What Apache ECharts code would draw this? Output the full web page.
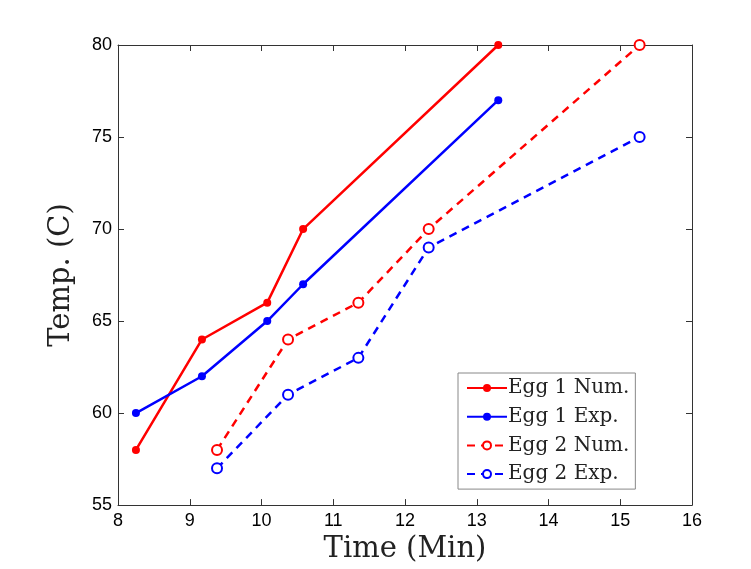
<!DOCTYPE html>
<html><head><meta charset="utf-8">
<script src="https://cdn.jsdelivr.net/npm/echarts@6/dist/echarts.min.js"></script>
<style>html,body{margin:0;padding:0;background:#fff}#c{width:751px;height:569px}</style>
</head><body><div id="c"></div>
<script>
const seriesNames = ['Egg 1 Num.', 'Egg 1 Exp.', 'Egg 2 Num.', 'Egg 2 Exp.'];
const egg1Time = [8.25, 9.17, 10.08, 10.58, 13.3];
const egg1Num = [58, 64, 66, 70, 80];
const egg1Exp = [60, 62, 65, 67, 77];
const egg2Time = [9.38, 10.37, 11.35, 12.33, 15.27];
const egg2Num = [58, 64, 66, 70, 80];
const egg2Exp = [57, 61, 63, 69, 75];
const xTicks = [8, 9, 10, 11, 12, 13, 14, 15, 16];
const yTicks = [55, 60, 65, 70, 75, 80];

const RED = '#ff0000', BLUE = '#0000ff';
const pairs = (xs, ys) => xs.map((x, i) => [x, ys[i]]);

function mk(name, xs, ys, color, dashed) {
  return {
    name, type: 'line', data: pairs(xs, ys), xAxisIndex: 0, yAxisIndex: 0,
    symbol: dashed ? 'emptyCircle' : 'circle',
    symbolSize: dashed ? 10 : 8,
    showSymbol: true,
    itemStyle: dashed ? { color: color, borderColor: color, borderWidth: 2 } : { color: color },
    lineStyle: { color: color, width: 2.5, type: dashed ? [8, 6] : 'solid' },
    animation: false, z: 3
  };
}

const axisCommon = {
  axisLine: { show: true, lineStyle: { color: '#333', width: 1 } },
  axisTick: { show: true, inside: true, length: 6, lineStyle: { color: '#333' } },
  splitLine: { show: false }
};

const chart = echarts.init(document.getElementById('c'));
chart.setOption({
  backgroundColor: '#fff',
  animation: false,
  grid: { left: 118, right: 59, top: 45, bottom: 63 },
  xAxis: [
    Object.assign({
      type: 'value', min: xTicks[0], max: xTicks[xTicks.length - 1], interval: 1, position: 'bottom',
      name: 'Time (Min)', nameLocation: 'middle', nameGap: 24,
      nameTextStyle: { fontFamily: 'DejaVu Serif', fontSize: 29, color: '#222' },
      axisLabel: { fontFamily: 'Liberation Sans', fontSize: 18, color: '#000', margin: 7 }
    }, axisCommon),
    Object.assign({
      type: 'value', min: xTicks[0], max: xTicks[xTicks.length - 1], interval: 1, position: 'top',
      axisLabel: { show: false }
    }, axisCommon)
  ],
  yAxis: [
    Object.assign({
      type: 'value', min: yTicks[0], max: yTicks[yTicks.length - 1], interval: 5, position: 'left',
      name: 'Temp. (C)', nameLocation: 'middle', nameGap: 42,
      nameTextStyle: { fontFamily: 'DejaVu Serif', fontSize: 29, color: '#222' },
      axisLabel: { fontFamily: 'Liberation Sans', fontSize: 18, color: '#000', margin: 6 }
    }, axisCommon),
    Object.assign({
      type: 'value', min: yTicks[0], max: yTicks[yTicks.length - 1], interval: 5, position: 'right',
      axisLabel: { show: false }
    }, axisCommon)
  ],
  legend: {
    data: seriesNames,
    orient: 'vertical',
    left: 458, top: 373,
    itemWidth: 40, itemHeight: 10, itemGap: 8.7,
    padding: [5, 6, 5, 8],
    borderColor: '#888', borderWidth: 1,
    backgroundColor: '#fff',
    textStyle: { fontFamily: 'DejaVu Serif', fontSize: 20, lineHeight: 20, color: '#222', padding: [0, 0, 0, -4] }
  },
  series: [
    mk(seriesNames[0], egg1Time, egg1Num, RED, false),
    mk(seriesNames[1], egg1Time, egg1Exp, BLUE, false),
    mk(seriesNames[2], egg2Time, egg2Num, RED, true),
    mk(seriesNames[3], egg2Time, egg2Exp, BLUE, true)
  ]
});
</script></body></html>
